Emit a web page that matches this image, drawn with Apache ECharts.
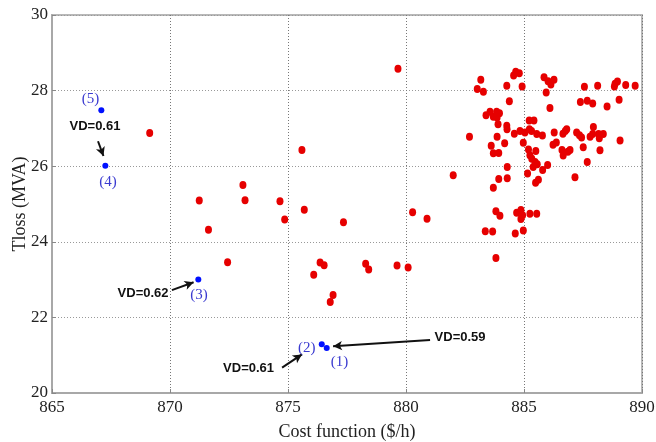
<!DOCTYPE html>
<html>
<head>
<meta charset="utf-8">
<script src="https://cdn.jsdelivr.net/npm/echarts@6/dist/echarts.min.js"></script>
<style>
  html, body { margin: 0; padding: 0; background: #fff; }
  #chart { width: 656px; height: 442px; }
</style>
</head>
<body>
<div id="chart"></div>
<script>
// red solutions: cost ($/h) and Tloss (MVA)
const costRed = [
  869.14, 875.59, 873.09, 871.24, 873.18, 874.66, 875.69, 874.86, 871.63, 877.35,
  872.44, 876.36, 876.53, 876.09, 878.29, 878.42, 879.62, 880.09, 876.91, 876.79,
  880.28, 880.89, 879.66, 882.00,
  883.17, 883.02, 883.28, 884.27, 884.56, 884.65, 884.80, 884.92, 884.38, 885.85,
  886.02, 886.14, 886.27, 885.94, 886.10, 887.56, 888.12, 888.86, 888.96, 888.83,
  889.31, 889.71, 887.39, 887.68, 887.91, 888.52, 889.03, 883.39, 883.56, 883.70,
  883.84, 883.96, 883.86, 883.90, 884.27, 884.28, 882.69, 883.86, 883.61, 884.18,
  884.59, 884.83, 885.04, 885.22, 885.42, 885.23, 885.32, 885.54, 885.78, 884.97,
  885.19, 885.50, 885.25, 885.33, 885.47, 885.56, 885.39, 883.70, 883.93, 884.29,
  886.00, 885.79, 886.28, 886.23, 886.37, 886.65, 886.75, 886.81, 886.61, 886.66,
  886.86, 886.95, 887.23, 887.35, 887.44, 887.51, 887.94, 887.80, 887.91, 888.16,
  888.19, 888.36, 888.22, 889.07, 887.68, 887.16, 885.15, 885.49, 885.61, 883.93,
  884.29, 883.70, 883.81, 883.98, 884.69, 884.87, 884.94, 884.87, 885.25, 885.54,
  883.36, 883.67, 884.63, 884.97, 883.81
];
const tlossRed = [
  26.88, 26.43, 25.50, 25.09, 25.10, 25.07, 24.85, 24.59, 24.32, 24.52,
  23.46, 23.45, 23.38, 23.13, 23.42, 23.27, 23.37, 23.32, 22.59, 22.41,
  24.78, 24.61, 28.58, 25.76,
  28.29, 28.04, 27.97, 28.13, 28.40, 28.50, 28.46, 28.11, 27.72, 28.35,
  28.25, 28.16, 28.29, 27.95, 27.54, 28.10, 28.13, 28.18, 28.24, 28.11,
  28.15, 28.13, 27.70, 27.73, 27.66, 27.58, 27.76, 27.35, 27.44, 27.31,
  27.44, 27.40, 27.29, 27.11, 27.07, 26.98, 26.78, 26.78, 26.54, 26.61,
  26.86, 26.93, 26.89, 27.21, 27.21, 26.98, 26.93, 26.85, 26.81, 26.62,
  26.44, 26.40, 26.29, 26.20, 26.11, 26.05, 25.98, 26.34, 26.35, 25.98,
  26.03, 25.90, 26.89, 26.57, 26.63, 26.86, 26.93, 26.98, 26.43, 26.28,
  26.38, 26.43, 26.89, 26.82, 26.76, 26.50, 27.04, 26.78, 26.85, 26.85,
  26.74, 26.85, 26.42, 26.68, 26.11, 25.71, 25.81, 25.56, 25.64, 25.66,
  25.68, 25.43, 24.81, 24.69, 24.77, 24.84, 24.70, 24.60, 24.74, 24.74,
  24.28, 24.27, 24.22, 24.30, 23.57
];

// selected (blue) solutions
const costBlue = [876.64, 876.43, 871.20, 867.26, 867.09];
const tlossBlue = [21.19, 21.29, 23.00, 26.01, 27.48];
const blueLabels = ['(1)', '(2)', '(3)', '(4)', '(5)'];

// annotation placement in data units
const labelAt = [[877.18, 20.81], [875.79, 21.18], [871.23, 22.59], [867.37, 25.58], [866.63, 27.78]];
const vdText = ['VD=0.59', 'VD=0.61', 'VD=0.62', 'VD=0.61'];
const vdAt = [[882.29, 21.46], [873.33, 20.65], [868.86, 22.64], [866.82, 27.06]];
const arrows = [
  [[881.02, 21.40], [876.91, 21.24]],
  [[874.75, 20.67], [875.59, 21.02]],
  [[870.08, 22.72], [871.00, 22.93]],
  [[866.95, 26.66], [867.18, 26.27]]
];

const serif = '"Liberation Serif", "DejaVu Serif", serif';

const chart = echarts.init(document.getElementById('chart'));

const option = {
  animation: false,
  backgroundColor: '#fff',
  grid: {
    left: 52, right: 14, top: 15, bottom: 49,
    show: true, borderColor: '#b8b8b8', borderWidth: 2,
    containLabel: false, outerBoundsMode: 'none'
  },
  xAxis: {
    type: 'value', min: 865, max: 890, interval: 5,
    name: 'Cost function ($/h)', nameLocation: 'middle', nameGap: 30,
    nameTextStyle: { fontFamily: serif, fontSize: 18, color: '#222' },
    axisLine: { onZero: false, lineStyle: { color: '#a8a8a8', width: 2 } },
    axisTick: { inside: true, length: 4, lineStyle: { color: '#888' } },
    axisLabel: { fontFamily: serif, fontSize: 17, color: '#222', margin: 6 },
    splitLine: { lineStyle: { color: '#777', type: [1, 2], width: 1 } }
  },
  yAxis: {
    type: 'value', min: 20, max: 30, interval: 2,
    name: 'Tloss (MVA)', nameLocation: 'middle', nameGap: 23,
    nameMoveOverlap: false,
    nameTextStyle: { fontFamily: serif, fontSize: 18, color: '#222' },
    axisLine: { onZero: false, lineStyle: { color: '#a8a8a8', width: 2 } },
    axisTick: { inside: true, length: 4, lineStyle: { color: '#888' } },
    axisLabel: { fontFamily: serif, fontSize: 17, color: '#222', margin: 4 },
    splitLine: { lineStyle: { color: '#999', type: [1, 2], width: 1 } }
  },
  series: [
    {
      type: 'scatter',
      data: costRed.map((c, i) => [c, tlossRed[i]]),
      symbol: 'circle',
      symbolSize: [7, 8],
      itemStyle: { color: '#e60000', opacity: 1 },
      z: 3
    },
    {
      type: 'scatter',
      data: costBlue.map((c, i) => [c, tlossBlue[i]]),
      symbol: 'circle',
      symbolSize: 6,
      itemStyle: { color: '#0010ff', opacity: 1 },
      z: 4,
      markPoint: {
        symbol: 'rect', symbolSize: 1,
        itemStyle: { color: 'transparent' },
        label: {
          show: true, position: 'inside',
          fontFamily: serif, fontSize: 15, color: '#3a3ad0',
          formatter: p => p.name
        },
        data: blueLabels.map((t, i) => ({ name: t, coord: labelAt[i] }))
      }
    },
    {
      type: 'scatter',
      data: [],
      markPoint: {
        symbol: 'rect', symbolSize: 1,
        itemStyle: { color: 'transparent' },
        label: {
          show: true, position: 'inside',
          fontFamily: '"Liberation Sans", Arial, sans-serif',
          fontWeight: 'bold', fontSize: 13, color: '#111',
          formatter: p => p.name
        },
        data: vdText.map((t, i) => ({ name: t, coord: vdAt[i] }))
      },
      markLine: {
        silent: true,
        symbol: ['none', 'arrow'],
        symbolSize: [7, 9],
        label: { show: false },
        lineStyle: { color: '#111', width: 2, type: 'solid' },
        data: arrows.map(a => [{ coord: a[0] }, { coord: a[1] }])
      }
    }
  ]
};

chart.setOption(option);
</script>
</body>
</html>
